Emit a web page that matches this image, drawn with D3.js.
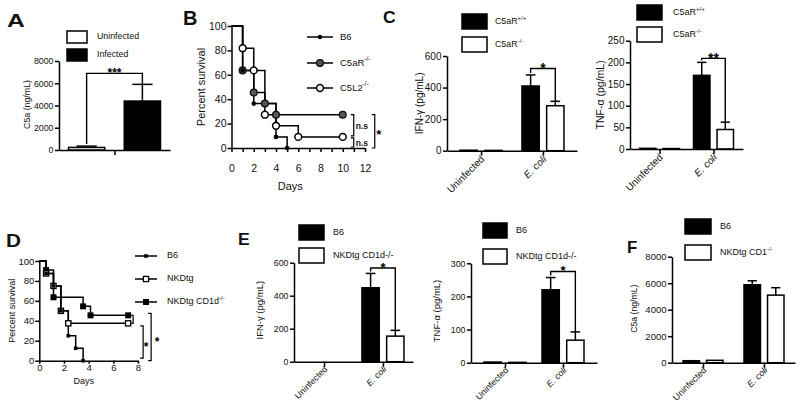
<!DOCTYPE html>
<html><head><meta charset="utf-8">
<script src="https://cdn.jsdelivr.net/npm/d3@7"></script>
<style>
body{margin:0;background:#fff;}
svg{display:block;}
</style></head><body>
<svg id="chart" width="800" height="414"></svg>
<script>
// ---------------- DATA ----------------
// Panel A
const aGroups = [""];
const aSeries = [["Uninfected", ""], ["Infected", ""]];
const aValues = [[230], [4400]];
const aErrors = [[120], [1500]];
const aYTicks = [0, 2000, 4000, 6000, 8000];

// Panel B (survival, %)
const bSeries = [["B6", ""], ["C5aR", "-/-"], ["C5L2", "-/-"]];
const bB6 = [[0, 100], [1, 63.6], [2, 36.4], [4, 9.1], [5, 0]];
const bC5aR = [[0, 100], [1, 63.6], [2, 45.5], [3, 36.4], [4, 27.3], [10, 27.3]];
const bC5L2 = [[0, 100], [1, 81.8], [2, 63.6], [3, 27.3], [4, 18.2], [6, 9.1], [10, 9.1]];
const bXTicks = [0, 1, 2, 3, 4, 5, 6, 7, 8, 9, 10, 11, 12];
const bXLabels = [0, 2, 4, 6, 8, 10, 12];
const bYTicks = [0, 20, 40, 60, 80, 100];

// Panel C
const cGroups = ["Uninfected", "E. coli"];
const cSeries = [["C5aR", "+/+"], ["C5aR", "-/-"]];
const cIfnValues = [[3, 410], [2, 285]];
const cIfnErrors = [[0, 70], [0, 28]];
const cIfnTicks = [0, 200, 400, 600];
const cTnfValues = [[1.5, 170], [1, 45]];
const cTnfErrors = [[0, 30], [0, 17]];
const cTnfTicks = [0, 50, 100, 150, 200, 250];

// Panel D (survival, %)
const dSeries = [["B6", ""], ["NKDtg", ""], ["NKDtg CD1d", "-/-"]];
const dB6 = [[0, 100], [0.55, 87.5], [1.15, 75], [1.75, 50], [2.35, 25], [2.95, 12.5], [3.55, 0]];
const dNKDtg = [[0, 100], [0.55, 87.5], [1.15, 75], [1.75, 50], [2.35, 37.5], [7.2, 37.5]];
const dCD1d = [[0, 100], [0.55, 90.9], [1.15, 63.6], [3.55, 54.5], [4.15, 45.5], [7.2, 45.5]];
const dXTicks = [0, 2, 4, 6, 8];
const dYTicks = [0, 20, 40, 60, 80, 100];

// Panel E
const eGroups = ["Uninfected", "E. coli"];
const eSeries = [["B6", ""], ["NKDtg CD1d-/-", ""]];
const eIfnValues = [[0, 448], [0, 155]];
const eIfnErrors = [[0, 87], [0, 35]];
const eIfnTicks = [0, 200, 400, 600];
const eTnfValues = [[2, 220], [1, 68]];
const eTnfErrors = [[0, 37], [0, 25]];
const eTnfTicks = [0, 100, 200, 300];

// Panel F
const fGroups = ["Uninfected", "E. coli"];
const fSeries = [["B6", ""], ["NKDtg CD1", "-/-"]];
const fValues = [[150, 5880], [180, 5100]];
const fErrors = [[0, 300], [0, 560]];
const fTicks = [0, 2000, 4000, 6000, 8000];

// ---------------- DRAWING ----------------
const svg = d3.select("#chart");
const FONT = "'Liberation Sans', Arial, Helvetica, sans-serif";
const INK = "#111";

function styleAxis(sel, fs) {
  sel.selectAll("path, line").attr("stroke", "#000").attr("stroke-width", 1.5);
  sel.selectAll("text").attr("font-size", fs).attr("fill", INK).attr("font-family", FONT);
}

function label(g, x, y, parts, fs, o = {}) {
  const t = g.append("text").attr("x", x).attr("y", y)
    .attr("font-size", fs).attr("font-family", FONT).attr("fill", INK);
  if (o.anchor) t.attr("text-anchor", o.anchor);
  if (o.baseline) t.attr("dominant-baseline", o.baseline);
  if (o.transform) t.attr("transform", o.transform);
  if (o.weight) t.attr("font-weight", o.weight);
  if (o.italic) t.attr("font-style", "italic");
  t.append("tspan").text(parts[0]);
  if (parts[1]) t.append("tspan").attr("dy", -fs * 0.4).attr("font-size", fs * 0.68).text(parts[1]);
  return t;
}

// asterisks: place glyph centre at (x, yc)
function stars(g, x, yc, s, fs) {
  g.append("text").attr("x", x).attr("y", yc + fs * 0.6)
    .attr("text-anchor", "middle").attr("font-family", FONT).attr("font-weight", "bold")
    .attr("font-size", fs).attr("fill", "#000").text(s);
}

function panelLetter(ch, x, y, fs, sx) {
  svg.append("text").attr("transform", `translate(${x},${y}) scale(${sx},1)`)
    .attr("font-family", FONT).attr("font-weight", "bold").attr("font-size", fs)
    .attr("fill", "#111").text(ch);
}

function barPanel(c) {
  const g = svg.append("g");
  const y = d3.scaleLinear().domain([0, c.yMax]).range([c.y0, c.y1]);
  const x = d3.scalePoint().domain(c.groups).range([c.x0, c.x1]).padding(c.pad);
  const xs = d3.scaleBand().domain(d3.range(c.series.length)).range([-c.half, c.half]).paddingInner(c.inner);
  const bw = xs.bandwidth();
  const cap = bw * 0.28;

  c.values.forEach((vals, si) => {
    vals.forEach((v, gi) => {
      const bx = x(c.groups[gi]) + xs(si);
      const cx = bx + bw / 2;
      if (v > 0) {
        g.append("rect").attr("x", bx).attr("y", y(v)).attr("width", bw).attr("height", y(0) - y(v))
          .attr("fill", c.fills[si]).attr("stroke", "#000").attr("stroke-width", 1.5);
      }
      const e = c.errors[si][gi];
      if (e > 0) {
        g.append("line").attr("x1", cx).attr("x2", cx).attr("y1", y(v)).attr("y2", y(v + e))
          .attr("stroke", "#000").attr("stroke-width", 1.5);
        g.append("line").attr("x1", cx - cap).attr("x2", cx + cap).attr("y1", y(v + e)).attr("y2", y(v + e))
          .attr("stroke", "#000").attr("stroke-width", 1.5);
      }
    });
  });

  const ya = g.append("g").attr("transform", `translate(${c.x0},0)`)
    .call(d3.axisLeft(y).tickValues(c.yTicks).tickSize(4).tickSizeOuter(0).tickPadding(1.5).tickFormat(d3.format("d")));
  styleAxis(ya, c.fs);
  const xa = g.append("g").attr("transform", `translate(0,${c.y0})`)
    .call(d3.axisBottom(x).tickSize(5).tickSizeOuter(0).tickFormat(""));
  styleAxis(xa, c.fs);

  if (c.xLabels) {
    c.groups.forEach(gn => {
      label(g, 0, 0, [gn], c.xfs, {
        anchor: "end",
        transform: `translate(${x(gn) + c.xlDx},${c.y0 + c.xlDy}) rotate(-45)`,
        italic: gn === "E. coli"
      });
    });
  }

  // y title
  label(g, 0, 0, [c.yTitle], c.tfs, { anchor: "middle", baseline: "middle",
    transform: `translate(${c.yTitleX},${(c.y0 + c.y1) / 2 + c.yTitleDy}) rotate(-90)` });

  // legend
  c.series.forEach((s, si) => {
    g.append("rect").attr("x", c.lx).attr("y", c.ly[si]).attr("width", c.lw).attr("height", c.lh)
      .attr("fill", c.fills[si]).attr("stroke", "#000").attr("stroke-width", 1.5);
    label(g, c.lx + c.lw + c.lgap, c.ly[si] + c.lh / 2, s, c.lfs, { baseline: "middle" });
  });

  // significance bracket
  if (c.bracket) {
    const gi = c.bracket.group;
    const gn = c.groups[gi];
    const xa_ = x(gn) + xs(0) + bw / 2, xb_ = x(gn) + xs(1) + bw / 2;
    const ta = y(c.values[0][gi] + c.errors[0][gi]);
    const tb = y(c.values[1][gi] + c.errors[1][gi]);
    const by = Math.min(ta, tb) - c.bracket.pad;
    g.append("path").attr("d", `M${xa_},${ta - 2}V${by}H${xb_}V${tb}`)
      .attr("fill", "none").attr("stroke", "#000").attr("stroke-width", 1.4);
    stars(g, (xa_ + xb_) / 2, by - 4, c.bracket.text, c.bracket.fs);
  }
}

function survival(c) {
  const g = svg.append("g");
  const x = d3.scaleLinear().domain([0, c.xMax]).range([c.x0, c.x1]);
  const y = d3.scaleLinear().domain([0, 100]).range([c.y0, c.y1]);
  const line = d3.line().x(d => x(d[0])).y(d => y(d[1])).curve(d3.curveStepAfter);

  c.data.forEach(d => {
    g.append("path").attr("d", line(d)).attr("fill", "none").attr("stroke", "#000").attr("stroke-width", 1.5);
  });

  function marker(sel, m, px, py) {
    if (m.shape === "circle") {
      sel.append("circle").attr("cx", px).attr("cy", py).attr("r", m.r)
        .attr("fill", m.fill).attr("stroke", m.stroke || "none").attr("stroke-width", m.sw || 0);
    } else {
      sel.append("rect").attr("x", px - m.r).attr("y", py - m.r).attr("width", 2 * m.r).attr("height", 2 * m.r)
        .attr("fill", m.fill).attr("stroke", m.stroke || "none").attr("stroke-width", m.sw || 0);
    }
  }
  c.order.forEach(i => {
    c.data[i].slice(1).forEach(d => marker(g, c.markers[i], x(d[0]), y(d[1])));
  });

  const ya = g.append("g").attr("transform", `translate(${c.x0},0)`)
    .call(d3.axisLeft(y).tickValues(c.yTicks).tickSize(4).tickSizeOuter(0).tickPadding(1));
  styleAxis(ya, c.fs);
  const xa = g.append("g").attr("transform", `translate(0,${c.y0})`)
    .call(d3.axisBottom(x).tickValues(c.xTicks).tickSize(c.xTickSize).tickSizeOuter(0).tickPadding(c.xPad)
      .tickFormat(d => c.xLabels.includes(d) ? d : ""));
  styleAxis(xa, c.fs);

  label(g, 0, 0, ["Percent survival"], c.tfs, { anchor: "middle", baseline: "middle",
    transform: `translate(${c.yTitleX},${(c.y0 + c.y1) / 2 + c.yTitleDy}) rotate(-90)` });
  label(g, (c.x0 + c.x1) / 2 + c.xTitleDx, c.xTitleY, ["Days"], c.tfs, { anchor: "middle", baseline: "middle" });

  // legend
  c.series.forEach((s, i) => {
    const ly = c.ly[i];
    g.append("line").attr("x1", c.lx0).attr("x2", c.lx1).attr("y1", ly).attr("y2", ly)
      .attr("stroke", "#000").attr("stroke-width", 1.5);
    marker(g, c.markers[i], (c.lx0 + c.lx1) / 2, ly);
    label(g, c.lx1 + c.lgap, ly, s, c.lfs, { baseline: "middle" });
  });

  c.extras(g, x, y);
}

function bracketR(g, bx, y1, y2, len) {
  g.append("path").attr("d", `M${bx - len},${y1}H${bx}V${y2}H${bx - len}`)
    .attr("fill", "none").attr("stroke", "#000").attr("stroke-width", 1.2);
}

// ---- Panel A ----
panelLetter("A", 7, 27, 19, 1.3);
barPanel({
  groups: aGroups, series: aSeries, values: aValues, errors: aErrors, yTicks: aYTicks,
  yMax: 8000, x0: 59, x1: 170, y0: 150, y1: 61, pad: 0.5, half: 46, inner: 0.35,
  fills: ["#fff", "#000"], fs: 8.8, xLabels: false,
  yTitle: "C5a (ng/mL)", tfs: 8.8, yTitleX: 28, yTitleDy: -1,
  lx: 67, ly: [31, 49], lw: 20, lh: 12, lgap: 10, lfs: 8.8,
  bracket: { group: 0, pad: 11, text: "***", fs: 12 }
});

// ---- Panel B ----
panelLetter("B", 183, 25, 20, 1.0);
survival({
  data: [bB6, bC5aR, bC5L2], series: bSeries, order: [2, 1, 0],
  markers: [
    { shape: "circle", r: 2.3, fill: "#000" },
    { shape: "circle", r: 3.4, fill: "#555", stroke: "#111", sw: 1.3 },
    { shape: "circle", r: 3.4, fill: "#fff", stroke: "#000", sw: 1.5 }
  ],
  xMax: 12, x0: 231.5, x1: 365, y0: 148, y1: 26,
  xTicks: bXTicks, xLabels: bXLabels, yTicks: bYTicks, xTickSize: 4, xPad: 13, fs: 10.5,
  tfs: 11, yTitleX: 202, yTitleDy: 0, xTitleDx: -8, xTitleY: 187,
  lx0: 307, lx1: 333, ly: [37, 63, 88], lgap: 7, lfs: 9.5,
  extras: (g, x, y) => {
    const bx = x(10) + 11;
    bracketR(g, bx, y(27.3), y(9.1) - 1, 3);
    bracketR(g, bx, y(9.1) + 1, y(0) - 1, 3);
    label(g, bx + 2, (y(27.3) + y(9.1)) / 2 + 3, ["n.s"], 8.5, { weight: "bold" });
    label(g, bx + 2, (y(9.1) + y(0)) / 2 + 4, ["n.s"], 8.5, { weight: "bold" });
    bracketR(g, bx + 21, y(27.3), y(0), 3);
    stars(g, bx + 25, (y(27.3) + y(0)) / 2, "*", 13);
  }
});

// ---- Panel C ----
panelLetter("C", 383, 23, 16, 1.1);
barPanel({
  groups: cGroups, series: cSeries, values: cIfnValues, errors: cIfnErrors, yTicks: cIfnTicks,
  yMax: 600, x0: 447, x1: 577, y0: 150.7, y1: 56, pad: 0.55, half: 21, inner: 0.3,
  fills: ["#000", "#fff"], fs: 10, xLabels: true, xfs: 10, xlDx: 4, xlDy: 9,
  yTitle: "IFN-\u03b3 (pg/mL)", tfs: 10, yTitleX: 420, yTitleDy: 0,
  lx: 462, ly: [14, 37], lw: 25, lh: 15, lgap: 8, lfs: 8.8,
  bracket: { group: 1, pad: 6.5, text: "*", fs: 14 }
});
barPanel({
  groups: cGroups, series: cSeries, values: cTnfValues, errors: cTnfErrors, yTicks: cTnfTicks,
  yMax: 250, x0: 630, x1: 743, y0: 149, y1: 40.7, pad: 0.546, half: 20, inner: 0.3,
  fills: ["#000", "#fff"], fs: 10, xLabels: true, xfs: 10, xlDx: 4, xlDy: 9,
  yTitle: "TNF-\u03b1 (pg/mL)", tfs: 10.5, yTitleX: 601, yTitleDy: 0,
  lx: 637, ly: [5, 27], lw: 25, lh: 15, lgap: 11, lfs: 9,
  bracket: { group: 1, pad: 4, text: "**", fs: 14 }
});

// ---- Panel D ----
panelLetter("D", 6, 247, 18, 1.15);
survival({
  data: [dB6, dNKDtg, dCD1d], series: dSeries, order: [2, 1, 0],
  markers: [
    { shape: "square", r: 1.8, fill: "#000" },
    { shape: "square", r: 2.6, fill: "#fff", stroke: "#000", sw: 1.3 },
    { shape: "square", r: 3, fill: "#000" }
  ],
  xMax: 8, x0: 39.3, x1: 138, y0: 360.7, y1: 261,
  xTicks: dXTicks, xLabels: dXTicks, yTicks: dYTicks, xTickSize: 3, xPad: 1, fs: 9.5,
  tfs: 9, yTitleX: 13, yTitleDy: 0, xTitleDx: -5, xTitleY: 382,
  lx0: 135, lx1: 157, ly: [256, 279, 302], lgap: 10, lfs: 9,
  extras: (g, x, y) => {
    bracketR(g, x(7.2) + 5, y(45.5), y(37.5), 2);
    bracketR(g, x(7.2) + 15, y(35), y(2.5), 3);
    stars(g, x(7.2) + 18, y(17), "*", 12);
    bracketR(g, x(7.2) + 23, y(47.5), y(0), 3);
    stars(g, x(7.2) + 29, y(22), "*", 12);
  }
});

// ---- Panel E ----
panelLetter("E", 238, 245, 16, 1.1);
barPanel({
  groups: eGroups, series: eSeries, values: eIfnValues, errors: eIfnErrors, yTicks: eIfnTicks,
  yMax: 600, x0: 294, x1: 413, y0: 361.7, y1: 262.7, pad: 0.51, half: 21, inner: 0.3,
  fills: ["#000", "#fff"], fs: 8.8, xLabels: true, xfs: 8.8, xlDx: 4, xlDy: 8,
  yTitle: "IFN-\u03b3 (pg/mL)", tfs: 9.5, yTitleX: 260, yTitleDy: -2,
  lx: 299, ly: [225, 248], lw: 25, lh: 15, lgap: 9, lfs: 9,
  bracket: { group: 1, pad: 5.5, text: "*", fs: 13 }
});
barPanel({
  groups: eGroups, series: eSeries, values: eTnfValues, errors: eTnfErrors, yTicks: eTnfTicks,
  yMax: 300, x0: 471, x1: 597, y0: 362.7, y1: 263.3, pad: 0.586, half: 21, inner: 0.3,
  fills: ["#000", "#fff"], fs: 8.8, xLabels: true, xfs: 8.8, xlDx: 4, xlDy: 8,
  yTitle: "TNF-\u03b1 (pg/mL)", tfs: 9.5, yTitleX: 437, yTitleDy: -2,
  lx: 483, ly: [223, 249], lw: 24, lh: 15, lgap: 9, lfs: 9,
  bracket: { group: 1, pad: 6, text: "*", fs: 13 }
});

// ---- Panel F ----
panelLetter("F", 627, 253, 16, 1.05);
barPanel({
  groups: fGroups, series: fSeries, values: fValues, errors: fErrors, yTicks: fTicks,
  yMax: 8000, x0: 672, x1: 795, y0: 362.7, y1: 256.7, pad: 0.508, half: 20, inner: 0.3,
  fills: ["#000", "#fff"], fs: 9.5, xLabels: true, xfs: 9, xlDx: 4, xlDy: 8,
  yTitle: "C5a (ng/mL)", tfs: 8.7, yTitleX: 635, yTitleDy: -1,
  lx: 685, ly: [219, 245], lw: 26, lh: 15, lgap: 9, lfs: 9
});
</script>
</body></html>
